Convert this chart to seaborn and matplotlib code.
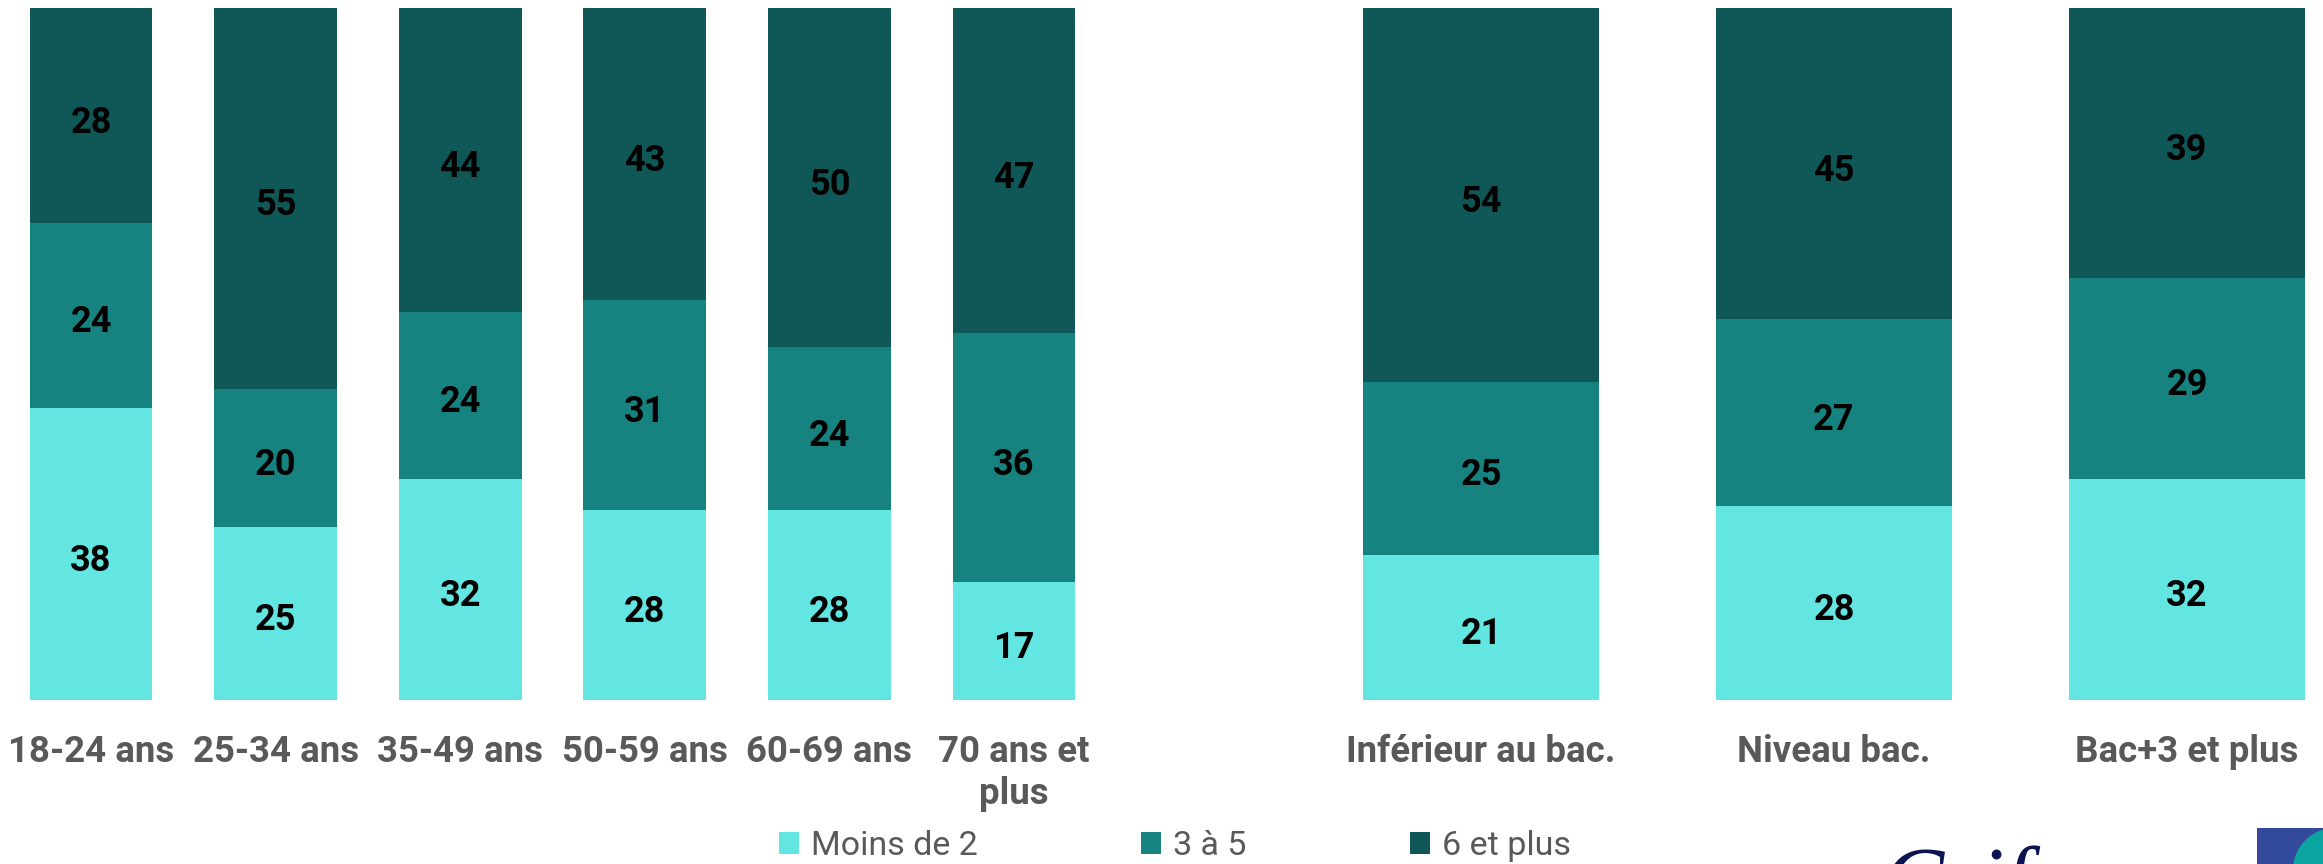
import matplotlib
matplotlib.use("Agg")
import matplotlib.pyplot as plt
from matplotlib.patches import Patch, Rectangle, Ellipse
from matplotlib.transforms import offset_copy
import seaborn as sns
import pandas as pd
import numpy as np

# ---------------- data ----------------
age_cats = ["18-24 ans", "25-34 ans", "35-49 ans", "50-59 ans", "60-69 ans", "70 ans et\nplus"]
age_moins2 = [38, 25, 32, 28, 28, 17]
age_3a5 = [24, 20, 24, 31, 24, 36]
age_6plus = [28, 55, 44, 43, 50, 47]

edu_cats = ["Inférieur au bac.", "Niveau bac.", "Bac+3 et plus"]
edu_moins2 = [21, 28, 32]
edu_3a5 = [25, 27, 29]
edu_6plus = [54, 45, 39]

series_names = ["Moins de 2", "3 à 5", "6 et plus"]
colors = ["#63E6E2", "#178381", "#0F5857"]

# ---------------- style ----------------
sns.set_style("white")
plt.rcParams["font.family"] = ["Roboto", "DejaVu Sans"]

W, H = 2323, 864
fig = plt.figure(figsize=(W / 100, H / 100), dpi=100)

ax_bottom = 1 - 700 / H
ax_height = 692 / H
ax1 = fig.add_axes([0, ax_bottom, 1105 / W, ax_height])
ax2 = fig.add_axes([1304.5 / W, ax_bottom, (W - 1304.5) / W, ax_height])

TICK_COLOR = "#595959"


def draw(ax, cats, s1, s2, s3, xlim):
    df = pd.DataFrame({"cat": cats, "a": s1, "b": s2, "c": s3})
    tot = df["a"] + df["b"] + df["c"]
    df["p1"] = df["a"] / tot * 100
    df["p12"] = (df["a"] + df["b"]) / tot * 100
    df["p123"] = (df["a"] + df["b"] + df["c"]) / tot * 100
    for col, c in zip(["p123", "p12", "p1"], colors[::-1]):
        sns.barplot(data=df, x="cat", y=col, order=cats, color=c, saturation=1,
                    width=0.666, errorbar=None, linewidth=0, ax=ax)
    ax.set_ylim(0, 100)
    ax.set_xlim(*xlim)
    # value labels
    tr = offset_copy(ax.transData, fig=fig, x=0, y=-5, units="points")
    for i, row in df.iterrows():
        mids = [row["p1"] / 2, (row["p1"] + row["p12"]) / 2, (row["p12"] + row["p123"]) / 2]
        vals = [row["a"], row["b"], row["c"]]
        for m, v in zip(mids, vals):
            ax.text(i, m, f"{int(v)}", ha="center", va="center", fontsize=26,
                    fontweight="bold", color="black", transform=tr)
    ax.set_xlabel("")
    ax.set_ylabel("")
    ax.set_yticks([])
    ax.tick_params(axis="x", length=0, pad=24.5)
    for lbl in ax.get_xticklabels():
        lbl.set_fontsize(26.4)
        lbl.set_fontweight("bold")
        lbl.set_color(TICK_COLOR)
        lbl.set_linespacing(1.2)
    for s in ax.spines.values():
        s.set_visible(False)
    ax.set_facecolor("none")


draw(ax1, age_cats, age_moins2, age_3a5, age_6plus, (-0.493, 5.493))
draw(ax2, edu_cats, edu_moins2, edu_3a5, edu_6plus, (-0.5, (W - 1481) / 353))

# ---------------- legend ----------------
handles = [Patch(facecolor=c, edgecolor="none", label=n) for c, n in zip(colors, series_names)]
fig.legend(handles=handles, loc="center", bbox_to_anchor=(1175 / W, 1 - 846 / H), ncol=3,
           frameon=False, fontsize=24.5, handlelength=0.6, handleheight=0.6,
           handletextpad=0.35, columnspacing=4.8, labelcolor=TICK_COLOR, borderpad=0)

# ---------------- logo fragments (bottom right, cut by the edge as in the source) ----------------
fig.text(1883 / W, 1 - 910 / H, "Crif", fontsize=66, style="italic",
         family=["Liberation Serif", "DejaVu Serif"], color="#0B1450", va="baseline", ha="left")
fig.patches.append(Rectangle((2257 / W, 0), (W - 2257) / W, 36 / H, transform=fig.transFigure,
                             facecolor="#334A9C", edgecolor="none"))
fig.patches.append(Ellipse((2335 / W, -6 / H), 84 / W, 84 / H, transform=fig.transFigure,
                           facecolor="#0AA5A0", edgecolor="none"))

fig.savefig("out.png", dpi=100)
